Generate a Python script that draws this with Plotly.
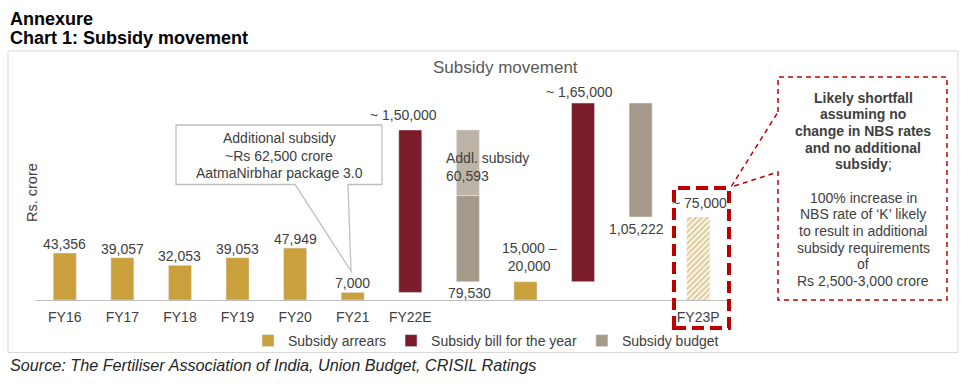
import plotly.graph_objects as go

# ---------------- data ----------------
slot_labels = ["FY16", "FY17", "FY18", "FY19", "FY20", "FY21", "FY22E", "", "", "", "", "FY23P"]
arrears_labels = ["FY16", "FY17", "FY18", "FY19", "FY20", "FY21"]
arrears_values = [43356, 39057, 32053, 39053, 47949, 7000]
fy22_bill = 150000
fy22_budget = 79530
fy22_addl = 60593
fy23_bill = 165000
fy23_budget = 105222

# waterfall math derived from the read values
fy22_top = arrears_values[-1] + fy22_bill
fy23_arrears = fy22_top - fy22_budget - fy22_addl
fy23_top = fy23_arrears + fy23_bill
fy23_shortfall = fy23_top - fy23_budget

GOLD = "#C9A03C"
RED = "#7B1C2B"
GREY = "#A59A8A"
LGREY = "#BDB4A8"
TXT = "#404040"
DRED = "#C00000"
FONT = "Arial, 'Liberation Sans', sans-serif"

idx = list(range(len(slot_labels)))
S_FY22_BILL, S_FY22_BUD, S_FY23_ARR, S_FY23_BILL, S_FY23_BUD, S_FY23_SHORT = 6, 7, 8, 9, 10, 11
W = 0.4

fig = go.Figure()
fig.add_trace(go.Bar(name="Subsidy arrears", x=idx[:6] + [S_FY23_ARR], y=arrears_values + [fy23_arrears],
                     base=0, width=W, marker_color=GOLD, hoverinfo="skip"))
fig.add_trace(go.Bar(name="Subsidy bill for the year", x=[S_FY22_BILL, S_FY23_BILL], y=[fy22_bill, fy23_bill],
                     base=[arrears_values[-1], fy23_arrears], width=W, marker_color=RED, hoverinfo="skip"))
fig.add_trace(go.Bar(name="Subsidy budget", x=[S_FY22_BUD, S_FY23_BUD], y=[fy22_budget, fy23_budget],
                     base=[fy23_arrears, fy23_shortfall], width=W, marker_color=GREY, hoverinfo="skip"))
fig.add_trace(go.Bar(name="Addl. subsidy", x=[S_FY22_BUD], y=[fy22_addl], base=[fy23_arrears + fy22_budget],
                     width=W, marker_color=LGREY, showlegend=False, hoverinfo="skip"))
fig.add_trace(go.Bar(name="Shortfall", x=[S_FY23_SHORT], y=[fy23_shortfall], base=0, width=W,
                     marker=dict(color="white", line=dict(width=0),
                                 pattern=dict(shape="/", fgcolor="#C49A35", bgcolor="white", size=4, solidity=0.6)),
                     showlegend=False, hoverinfo="skip"))

# ---- geometry helpers (pixel -> paper) ----
L, RP, T, B = 36, 727, 80, 300


def px(v):
    return (v - L) / (RP - L)


def py(v):
    return (B - v) / (B - T)


ann = []


def label(x, y, text, yanchor, yshift=0, xshift=0, align="center", xanchor="center"):
    ann.append(dict(x=x, y=y, xref="x", yref="y", text=text, showarrow=False, yanchor=yanchor,
                    xanchor=xanchor, yshift=yshift, xshift=xshift, align=align,
                    font=dict(size=14, color=TXT, family=FONT)))


def fmt_in(v):
    s = str(int(round(v)))
    if len(s) <= 3:
        return s
    last3 = s[-3:]
    rest = s[:-3]
    parts = []
    while len(rest) > 2:
        parts.insert(0, rest[-2:])
        rest = rest[:-2]
    if rest:
        parts.insert(0, rest)
    return ",".join(parts) + "," + last3


for i, v in enumerate(arrears_values):
    label(i, v, fmt_in(v), "bottom", yshift=-1)

label(S_FY22_BILL, fy22_top, "~ " + fmt_in(fy22_bill), "bottom", yshift=5, xshift=-7)
label(S_FY22_BUD, fy23_arrears + fy22_budget + fy22_addl / 2, "Addl. subsidy<br>" + fmt_in(fy22_addl), "middle",
      yshift=-4, xshift=-24, align="left", xanchor="left")
label(S_FY22_BUD, fy23_arrears, fmt_in(fy22_budget), "top", yshift=-1, xshift=2)
label(S_FY23_ARR, fy23_arrears, "15,000 –<br>20,000", "bottom", yshift=6, xshift=4)
label(S_FY23_BILL, fy23_top, "~ " + fmt_in(fy23_bill), "bottom", yshift=1, xshift=-4)
label(S_FY23_BUD, fy23_shortfall, fmt_in(fy23_budget), "top", yshift=-2, xshift=-4)
label(S_FY23_SHORT, fy23_shortfall, "~ 75,000", "bottom", yshift=4, xshift=1)


def ptext(xp, yp, text, size=14, color=TXT, xanchor="center", bold=False, italic=False):
    if bold:
        text = "<b>" + text + "</b>"
    if italic:
        text = "<i>" + text + "</i>"
    ann.append(dict(x=px(xp), y=py(yp), xref="paper", yref="paper", text=text, showarrow=False,
                    xanchor=xanchor, yanchor="middle", font=dict(size=size, color=color, family=FONT)))


ptext(8, 19, "Annexure", size=18, color="black", xanchor="left", bold=True)
ptext(8, 38, "Chart 1: Subsidy movement", size=18, color="black", xanchor="left", bold=True)
ptext(505, 67, "Subsidy movement", size=17, color="#595959")
ptext(8, 365, "Source: The Fertiliser Association of India, Union Budget, CRISIL Ratings", size=16.2,
      color="#262626", xanchor="left", italic=True)
ann.append(dict(x=px(22), y=py(193), xref="paper", yref="paper", text="Rs. crore", showarrow=False,
                textangle=-90, font=dict(size=14.5, color=TXT, family=FONT)))

# callout 1 text
for yy, t in zip([138, 156, 173], ["Additional subsidy", "~Rs 62,500 crore", "AatmaNirbhar package 3.0"]):
    ptext(279, yy, t)

# right box text
right_lines = [
    (98, "<b>Likely shortfall</b>"),
    (114, "<b>assuming no</b>"),
    (131, "<b>change in NBS rates</b>"),
    (148, "<b>and no additional</b>"),
    (164, "<b>subsidy</b>;"),
    (198, "100% increase in"),
    (214, "NBS rate of ‘K’ likely"),
    (231, "to result in additional"),
    (248, "subsidy requirements"),
    (264, "of"),
    (281, "Rs 2,500-3,000 crore"),
]
for yy, t in right_lines:
    ptext(863, yy, t)

shapes = []
# outer chart border
shapes.append(dict(type="rect", xref="paper", yref="paper", x0=px(8), x1=px(958), y0=py(352.5), y1=py(51),
                   line=dict(color="#D9D9D9", width=1), layer="below"))


def path(points, close=True):
    s = "M " + " L ".join(f"{px(a):.5f},{py(b):.5f}" for a, b in points)
    return s + (" Z" if close else "")


# callout 1 (box with wedge pointing to FY21 bar)
shapes.append(dict(type="path", xref="paper", yref="paper",
                   path=path([(176, 125), (382, 125), (382, 184.5), (348, 184.5), (351, 271), (295, 184.5), (176, 184.5)]),
                   fillcolor="white", line=dict(color="#BFBFBF", width=1.3)))
# thick dashed box around FY23P
shapes.append(dict(type="rect", xref="paper", yref="paper", x0=px(674), x1=px(729), y0=py(328), y1=py(188),
                   line=dict(color=DRED, width=4, dash="12px,6px")))
# right dashed callout
shapes.append(dict(type="path", xref="paper", yref="paper",
                   path=path([(778, 112), (778, 77), (947, 77), (947, 300), (778, 300), (778, 172), (731, 187)]),
                   line=dict(color=DRED, width=1.5, dash="5px,4px")))

fig.update_layout(
    width=965, height=384,
    margin=dict(l=L, r=965 - RP, t=T, b=384 - B),
    paper_bgcolor="white", plot_bgcolor="white",
    barmode="overlay",
    font=dict(family=FONT, size=14, color=TXT),
    showlegend=True,
    legend=dict(orientation="h", x=px(486), xanchor="center", y=py(341), yanchor="middle",
                font=dict(size=14, color=TXT, family=FONT), itemwidth=30, bgcolor="rgba(0,0,0,0)"),
    xaxis=dict(range=[-0.5, 11.5], tickmode="array", tickvals=idx, ticktext=slot_labels,
               showline=True, linecolor="#BFBFBF", linewidth=1, showgrid=False, zeroline=False,
               ticks="outside", ticklen=4, tickcolor="rgba(0,0,0,0)", tickfont=dict(size=14, color=TXT)),
    yaxis=dict(range=[0, 203140], visible=False, showgrid=False, zeroline=False),
    annotations=ann,
    shapes=shapes,
)

fig.write_html("out.html", config={"displayModeBar": False},
               post_script="document.body.style.margin='0';")
